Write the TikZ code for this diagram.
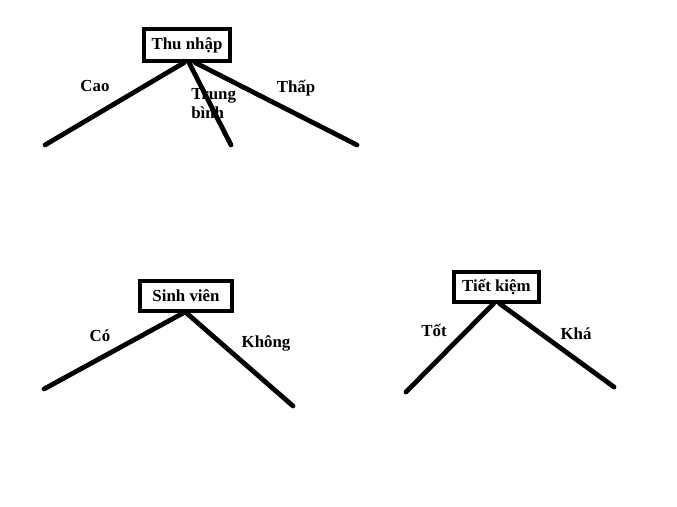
\documentclass[tikz,border=0pt]{standalone}
\usepackage{fontspec}
\setmainfont{Liberation Serif}
\usepackage{tikz}
\usetikzlibrary{positioning,calc}

\begin{document}
\begin{tikzpicture}[
    attr/.style={
        rectangle,
        draw=black,
        line width=2.8pt,
        inner sep=2pt,
        align=center,
        font=\fontsize{12}{13}\selectfont\bfseries
    },
    lbl/.style={
        align=left,
        font=\fontsize{12}{13.5}\selectfont\bfseries
    },
    branch/.style={line width=3.4pt, line cap=round}
]
\useasboundingbox[fill=white] (0,0) rectangle (16.925,12.65);

% Thu nhap
\node[attr, minimum width=2.17cm, minimum height=0.78cm] (thunhap) at (4.675, 11.525) {Thu nhập};
\coordinate (cao) at (1.125, 9.025);
\coordinate (trungbinh) at (5.775, 9.025);
\coordinate (thap) at (8.925, 9.025);
\node[lbl] (lcao) at (2.375, 10.5) {Cao};
\node[lbl, anchor=west, inner sep=0pt] (ltb) at (4.775, 10.05) {Trung\\bình};
\node[lbl] (lthap) at (7.4, 10.45) {Thấp};

% Sinh vien
\node[attr, minimum width=2.3cm, minimum height=0.73cm] (sinhvien) at (4.65, 5.25) {Sinh viên};
\coordinate (co) at (1.1, 2.925);
\coordinate (khong) at (7.325, 2.5);
\node[lbl] (lco) at (2.5, 4.25) {Có};
\node[lbl] (lkhong) at (6.65, 4.075) {Không};

% Tiet kiem
\node[attr, minimum width=2.12cm, minimum height=0.73cm] (tietkiem) at (12.41, 5.475) {Tiết kiệm};
\coordinate (tot) at (10.15, 2.85);
\coordinate (kha) at (15.35, 2.975);
\node[lbl] (ltot) at (10.85, 4.4) {Tốt};
\node[lbl] (lkha) at (14.4, 4.3) {Khá};

% Branches
\draw[branch] ([xshift=-0.07cm]thunhap.south) -- (cao);
\draw[branch] ([xshift=0.05cm]thunhap.south) -- (trungbinh);
\draw[branch] ([xshift=0.2cm]thunhap.south) -- (thap);
\draw[branch] ([xshift=-0.05cm]sinhvien.south) -- (co);
\draw[branch] ([xshift=0cm]sinhvien.south) -- (khong);
\draw[branch] ([xshift=-0.07cm]tietkiem.south) -- (tot);
\draw[branch] ([xshift=0.08cm]tietkiem.south) -- (kha);

\end{tikzpicture}
\end{document}
